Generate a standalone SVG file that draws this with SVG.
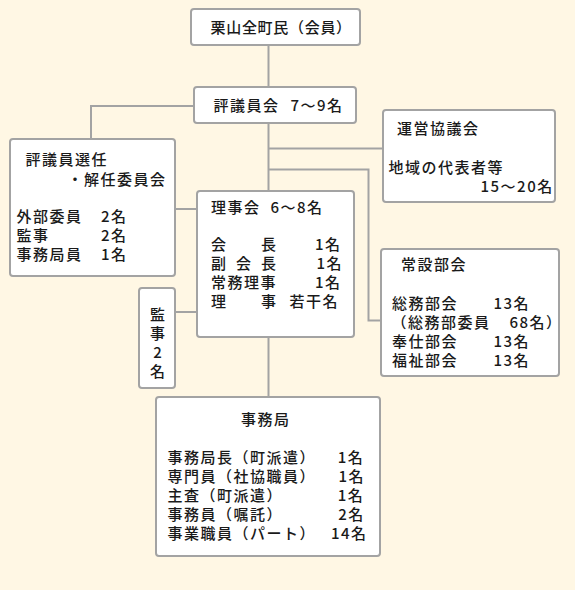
<svg xmlns="http://www.w3.org/2000/svg" width="575" height="590" viewBox="0 0 575 590">
<style>
.bx{fill:#ffffff;stroke:#a3a3a3;stroke-width:2}
.ln{fill:none;stroke:#a3a3a3;stroke-width:2}
text{font-family:"Noto Sans CJK JP","Noto Sans",sans-serif;font-size:15px;font-weight:500;fill:#1a1a1a;letter-spacing:1.5px}
.v{letter-spacing:0;text-anchor:middle}
</style>
<rect x="0" y="0" width="575" height="590" fill="#fff7e4"/>
<g id="connectors">
<path class="ln" d="M268.5 46V87"/>
<path class="ln" d="M268.5 123V191"/>
<path class="ln" d="M268.5 337V397"/>
<path class="ln" d="M268.5 148.5H383"/>
<path class="ln" d="M268.5 169.5H368.5V320.5H381"/>
<path class="ln" d="M194 106H91V139"/>
<path class="ln" d="M175 209H197"/>
<path class="ln" d="M175 312H197"/>
</g>
<g id="members">
<rect class="bx" x="191" y="9" width="169" height="36" rx="3"/>
<text x="210.5" y="33" style="letter-spacing:0.7px">栗山全町民（会員）</text>
</g>
<g id="council">
<rect class="bx" x="194" y="87" width="162" height="36" rx="3"/>
<text y="111"><tspan x="213.5">評議員会</tspan><tspan x="290.5">7～9名</tspan></text>
</g>
<g id="selection">
<rect class="bx" x="10" y="139" width="165" height="137" rx="3"/>
<text><tspan x="25.5" y="165">評議員選任</tspan><tspan x="67.5" y="184.5">・解任委員会</tspan><tspan x="16.5" y="222">外部委員</tspan><tspan x="101" y="222">2名</tspan><tspan x="16.5" y="241">監事</tspan><tspan x="101" y="241">2名</tspan><tspan x="16.5" y="260">事務局員</tspan><tspan x="101" y="260">1名</tspan></text>
</g>
<g id="steering">
<rect class="bx" x="383" y="110" width="172" height="92" rx="3"/>
<text><tspan x="397" y="134">運営協議会</tspan><tspan x="388.5" y="173">地域の代表者等</tspan><tspan x="480.5" y="191.5">15～20名</tspan></text>
</g>
<g id="board">
<rect class="bx" x="197" y="191" width="157" height="146" rx="3"/>
<text><tspan x="211" y="212.5">理事会</tspan><tspan x="270.5" y="212.5">6～8名</tspan><tspan x="211" y="250">会</tspan><tspan x="261" y="250">長</tspan><tspan x="315" y="250">1名</tspan><tspan x="211" y="269">副</tspan><tspan x="236" y="269">会</tspan><tspan x="261" y="269">長</tspan><tspan x="316.5" y="269">1名</tspan><tspan x="211" y="288">常務理事</tspan><tspan x="315" y="288">1名</tspan><tspan x="211" y="307">理</tspan><tspan x="261" y="307">事</tspan><tspan x="289.5" y="307">若干名</tspan></text>
</g>
<g id="auditor">
<rect class="bx" x="139" y="288" width="36" height="100" rx="3"/>
<text class="v"><tspan x="157.5" y="319.5">監</tspan><tspan x="157.5" y="338.5">事</tspan><tspan x="157.5" y="357.5">2</tspan><tspan x="157.5" y="376.5">名</tspan></text>
</g>
<g id="standing">
<rect class="bx" x="381" y="249" width="178" height="127" rx="3"/>
<text><tspan x="401" y="270">常設部会</tspan><tspan x="392" y="309">総務部会</tspan><tspan x="493.5" y="309">13名</tspan><tspan x="391.5" y="328">（総務部委員</tspan><tspan x="509.5" y="328">68名）</tspan><tspan x="392" y="347">奉仕部会</tspan><tspan x="493.5" y="347">13名</tspan><tspan x="392" y="366">福祉部会</tspan><tspan x="493.5" y="366">13名</tspan></text>
</g>
<g id="office">
<rect class="bx" x="156" y="397" width="224" height="159" rx="3"/>
<text><tspan x="241" y="425">事務局</tspan><tspan x="167.5" y="463">事務局長（町派遣）</tspan><tspan x="337.7" y="463">1名</tspan><tspan x="167.5" y="482">専門員（社協職員）</tspan><tspan x="338.5" y="482">1名</tspan><tspan x="167.5" y="501">主査（町派遣）</tspan><tspan x="337.7" y="501">1名</tspan><tspan x="167.5" y="520">事務員（嘱託）</tspan><tspan x="338.3" y="520">2名</tspan><tspan x="167.5" y="539">事業職員（パート）</tspan><tspan x="331" y="539">14名</tspan></text>
</g>
</svg>
